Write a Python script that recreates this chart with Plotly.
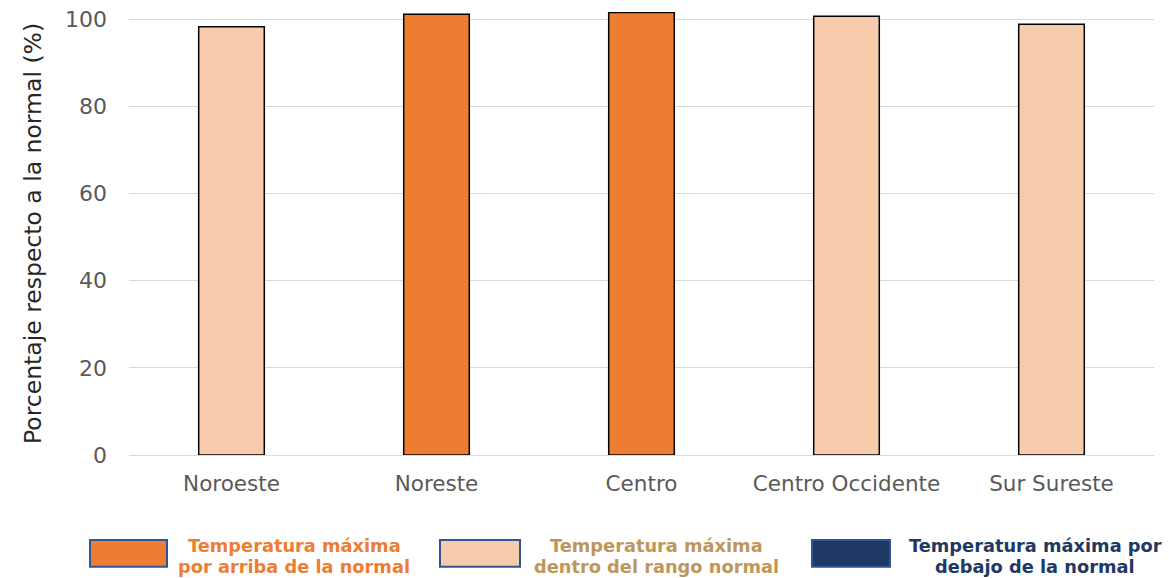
import plotly.graph_objects as go

regions = ["Noroeste", "Noreste", "Centro", "Centro Occidente", "Sur Sureste"]
values = [98.3, 101.2, 101.6, 100.7, 98.9]
status = ["dentro", "arriba", "arriba", "dentro", "dentro"]

legend_keys = ["arriba", "dentro", "debajo"]
legend_line1 = ["Temperatura máxima", "Temperatura máxima", "Temperatura máxima por"]
legend_line2 = ["por arriba de la normal", "dentro del rango normal", "debajo de la normal"]
fill_colors = {"arriba": "#ED7D31", "dentro": "#F8CBAD", "debajo": "#203864"}
text_colors = {"arriba": "#ED7D31", "dentro": "#BF9659", "debajo": "#203864"}
y_ticks = [0, 20, 40, 60, 80, 100]

fig = go.Figure()
fig.add_trace(go.Bar(
    x=regions, y=values,
    marker=dict(color=[fill_colors[s] for s in status],
                line=dict(color="#000000", width=1.5)),
    width=0.32, showlegend=False, hoverinfo="x+y",
))

W, H = 1169, 578
ml, mr, mt, mb = 129, 15, 7, 123
PW, PH = W - ml - mr, H - mt - mb

fig.update_layout(
    width=W, height=H,
    margin=dict(l=ml, r=mr, t=mt, b=mb),
    plot_bgcolor="white", paper_bgcolor="white",
    font=dict(family="DejaVu Sans, sans-serif", color="#595959"),
    showlegend=False,
)
fig.update_yaxes(
    range=[0, 101.7], tickvals=y_ticks, showgrid=True, gridcolor="#D9D9D9",
    gridwidth=1.3, zeroline=False, showline=False,
    tickfont=dict(size=22, color="#595959"), ticklabelstandoff=21,
    title=dict(text="Porcentaje respecto a la normal (%)",
               font=dict(size=23.5, color="#262626"), standoff=16),
)
fig.update_xaxes(
    showline=True, linecolor="#D9D9D9", linewidth=1.3,
    tickfont=dict(size=21.5, color="#595959"), ticklabelstandoff=9,
)

def fx(px):
    return (px - ml) / PW

def fy(py):
    return (H - mb - py) / PH

box_x = [(90, 167), (440, 520), (812, 890)]
text_cx = [294, 656, 1035]
for key, l1, l2, (x0, x1), cx in zip(legend_keys, legend_line1, legend_line2, box_x, text_cx):
    fig.add_shape(type="rect", xref="paper", yref="paper",
                  x0=fx(x0), x1=fx(x1), y0=fy(568), y1=fy(541),
                  fillcolor=fill_colors[key], line=dict(color="#2F5597", width=2))
    for txt, yc in ((l1, 547), (l2, 568)):
        fig.add_annotation(xref="paper", yref="paper", x=fx(cx), y=fy(yc),
                           text="<b>" + txt + "</b>", showarrow=False,
                           xanchor="center", yanchor="middle",
                           font=dict(family="DejaVu Sans, sans-serif",
                                     size=17.8, color=text_colors[key]))

fig.write_html("out.html", config={"displayModeBar": False},
               post_script="document.body.style.margin='0';")
